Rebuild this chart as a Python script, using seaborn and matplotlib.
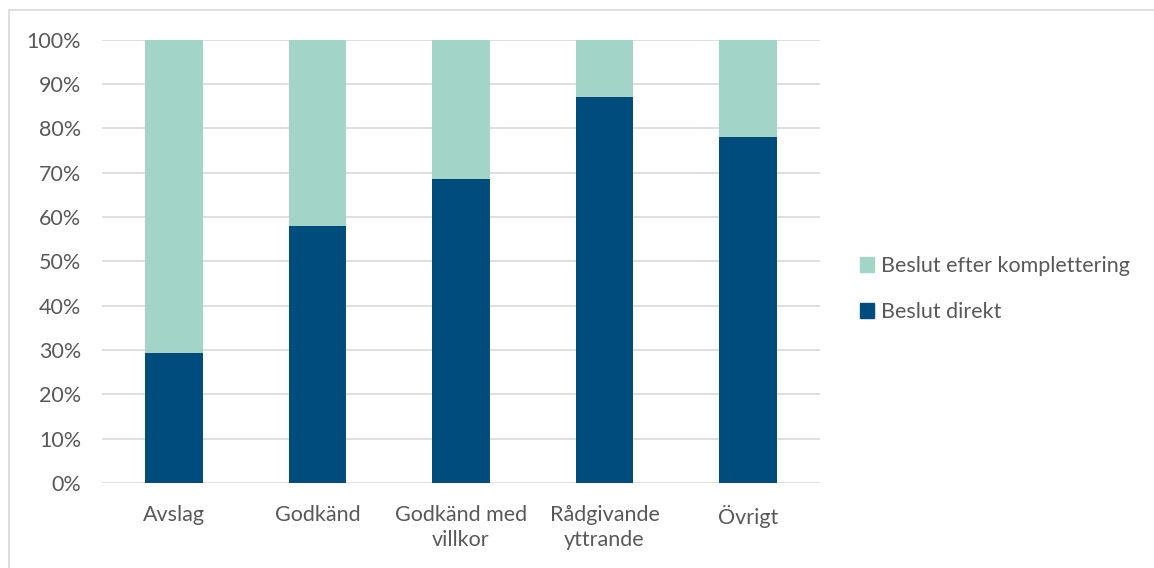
import pandas as pd
import matplotlib.pyplot as plt
import seaborn as sns
from matplotlib.patches import Rectangle, Patch

# data (share of decisions, %)
categories = ['Avslag', 'Godkänd', 'Godkänd med\nvillkor', 'Rådgivande\nyttrande', 'Övrigt']
beslut_direkt = [29.3, 58.0, 68.6, 87.1, 78.1]
beslut_efter = [100 - v for v in beslut_direkt]

dark = '#004C7C'
light = '#A3D4C8'
text_gray = '#595959'

df = pd.DataFrame({'kategori': categories,
                   'direkt': beslut_direkt,
                   'efter': beslut_efter})
df['total'] = df['direkt'] + df['efter']

sns.set_style('white')
plt.rcParams['font.family'] = ['Lato', 'DejaVu Sans']

fig = plt.figure(figsize=(11.54, 5.68), dpi=100)
ax = fig.add_axes([0.0884, 0.1496, 0.622, 0.7808])

# stacked bars: total first (light), then the direct part on top (dark)
sns.barplot(data=df, x='kategori', y='total', color=light, width=0.4,
            saturation=1, linewidth=0, edgecolor='none', ax=ax, zorder=3)
sns.barplot(data=df, x='kategori', y='direkt', color=dark, width=0.4,
            saturation=1, linewidth=0, edgecolor='none', ax=ax, zorder=4)

ax.set_ylim(0, 100)
ax.set_xlim(-0.5, len(categories) - 0.5)
ax.set_yticks(range(0, 101, 10))
ax.set_yticklabels([f'{t}%' for t in range(0, 101, 10)])
ax.yaxis.grid(True, color='#D9D9D9', linewidth=1.2, zorder=0)
ax.set_axisbelow(True)
ax.set_xlabel('')
ax.set_ylabel('')
for s in ax.spines.values():
    s.set_visible(False)
ax.tick_params(axis='both', length=0, labelsize=15.5, colors=text_gray)
ax.tick_params(axis='y', pad=15)
ax.tick_params(axis='x', pad=16)
for lbl in ax.get_xticklabels():
    lbl.set_linespacing(1.3)

handles = [Patch(color=light, label='Beslut efter komplettering'),
           Patch(color=dark, label='Beslut direkt')]
leg = fig.legend(handles=handles, loc='center left', bbox_to_anchor=(0.738, 0.491),
                 frameon=False, fontsize=15.5, handlelength=0.65, handleheight=0.7,
                 handletextpad=0.3, labelspacing=1.2, borderaxespad=0)
for t in leg.get_texts():
    t.set_color(text_gray)

# light frame around the chart area
fig.patches.append(Rectangle((9 / 1154, -0.01), 1.1, 1 - 10 / 568 + 0.01,
                             transform=fig.transFigure, fill=False,
                             edgecolor='#D9D9D9', linewidth=1.2))

fig.savefig('out.png', dpi=100)
